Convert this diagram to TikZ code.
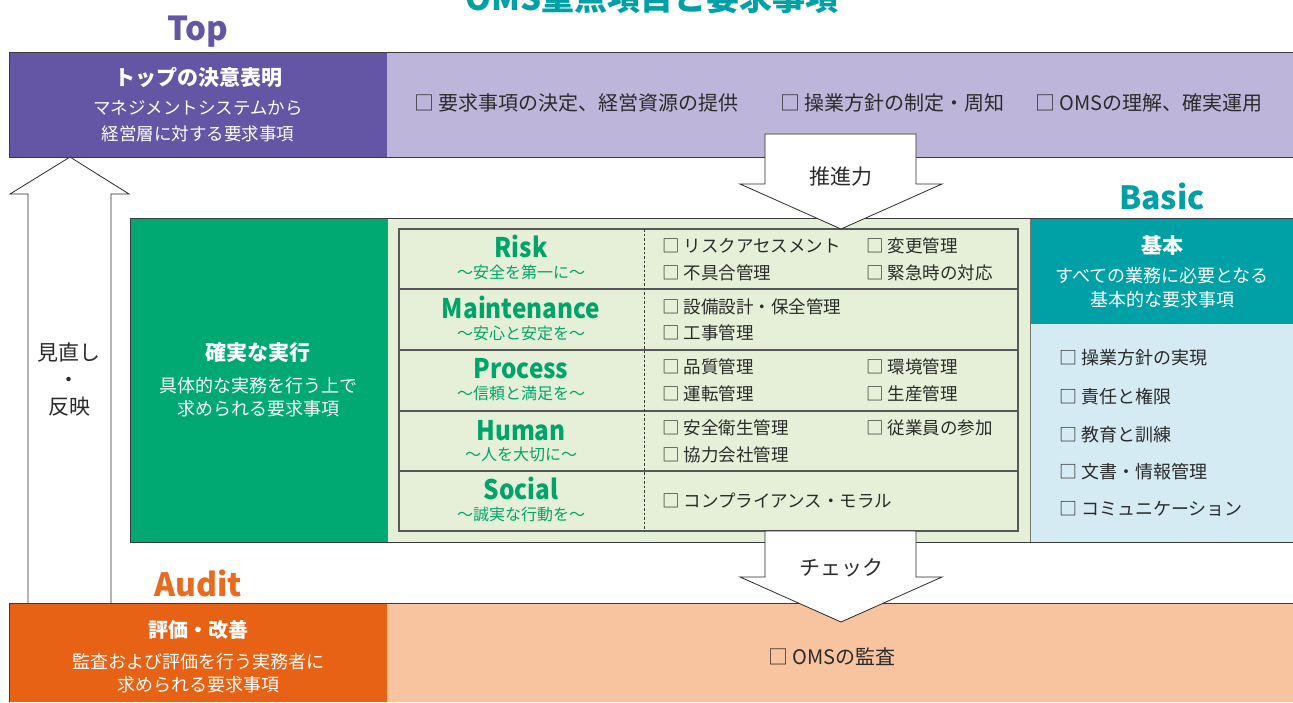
\documentclass[tikz,border=0pt]{standalone}
\usepackage{fontspec}
\setmainfont{Noto Sans CJK JP}
\definecolor{ttl}{HTML}{00A0A6}
\definecolor{purpD}{HTML}{6456A5}
\definecolor{purpL}{HTML}{BEB6DA}
\definecolor{greenD}{HTML}{00A971}
\definecolor{greenL}{HTML}{E6F0D8}
\definecolor{greenT}{HTML}{00A46B}
\definecolor{tealC}{HTML}{00A0A7}
\definecolor{blueL}{HTML}{D4EBF4}
\definecolor{orangeD}{HTML}{E86215}
\definecolor{orangeL}{HTML}{F7C49F}
\definecolor{orangeT}{HTML}{EA6A20}
\definecolor{dk}{HTML}{2B2B2B}
\definecolor{edge}{HTML}{3A3A3A}
\newcommand\cond[1]{\scalebox{0.9}[1]{#1}}
\begin{document}
\begin{tikzpicture}[x=1pt,y=-1pt,
  tx/.style={inner sep=0pt,text height={#1*0.8pt},text depth={#1*0.08pt},font=\fontsize{#1}{#1}\selectfont},
  tbx/.style={inner sep=0pt,text height={#1*0.8pt},text depth={#1*0.08pt},font=\fontsize{#1}{#1}\selectfont\bfseries},
  bandline/.style={draw=edge,line width=1pt},
  tline/.style={draw=edge!85,line width=1.2pt},
  blockarrow/.style={draw=dk,line width=0.8pt,fill=white,line join=miter},
  item/.style={tx=#1,anchor=west,text=dk},
  lbl/.style={tbx=27,text=greenT},
  sub/.style={tx=16,text=greenT}
]
\useasboundingbox (0,0) rectangle (1293,702);

% headings
\node[tbx=33,text=ttl,anchor=base] (title) at (652,10) {OMS重点項目と要求事項};
\node[tbx=33,text=purpD] (toplbl) at (198,29) {Top};
\node[tbx=32,text=ttl] (basiclbl) at (1162,198) {Basic};
\node[tbx=32,text=orangeT] (auditlbl) at (198,585) {Audit};

% top band
\fill[purpD] (9,52) rectangle (387,157);
\fill[purpL] (387,52) rectangle (1293,157);
\draw[bandline] (1293,52) -- (9,52) -- (9,157) -- (1293,157);
\node[tbx=21,text=white] (topT) at (198,78) {トップの決意表明};
\node[tx=17.5,text=white] (topS1) at (198,108) {マネジメントシステムから};
\node[tx=17.5,text=white] (topS2) at (198,134) {経営層に対する要求事項};
\node[item=20] (topI1) at (414,103) {□ 要求事項の決定、経営資源の提供};
\node[item=20] (topI2) at (780,103) {□ 操業方針の制定・周知};
\node[item=20] (topI3) at (1035,103) {□ OMSの理解、確実運用};

% review arrow
\draw[blockarrow] (28,603) -- (28,194) -- (10,194) -- (70,157) -- (129,194) -- (111,194) -- (111,603);
\node[tx=21,text=dk] (rv1) at (69,353) {見直し};
\node[tx=21,text=dk] (rv2) at (69,380) {・};
\node[tx=21,text=dk] (rv3) at (69,407) {反映};

% execution block
\fill[greenD] (130,218) rectangle (387,542);
\fill[greenL] (387,218) rectangle (1030,542);
\fill[tealC] (1030,218) rectangle (1293,324);
\fill[blueL] (1030,324) rectangle (1293,542);
\draw[draw=edge!70,line width=0.6pt] (387,218) -- (387,542) (1030,218) -- (1030,542);
\draw[bandline] (1293,218) -- (130,218) -- (130,542) -- (1293,542);
\node[tbx=21,text=white] (exT) at (258,353) {確実な実行};
\node[tx=18,text=white] (exS1) at (258,386) {具体的な実務を行う上で};
\node[tx=18,text=white] (exS2) at (258,409) {求められる要求事項};

% table
\draw[tline] (399,229) rectangle (1018,531);
\draw[tline] (399,289) -- (1018,289) (399,350) -- (1018,350) (399,411) -- (1018,411) (399,471) -- (1018,471);
\draw[draw=edge,line width=0.8pt,dash pattern=on 2.5pt off 2pt] (644,229) -- (644,531);

\node[lbl] (riskL) at (521,248) {\cond{Risk}};
\node[sub] (riskS) at (521,273) {～安全を第一に～};
\node[lbl] (mainL) at (521,309) {\cond{Maintenance}};
\node[sub] (mainS) at (521,334) {～安心と安定を～};
\node[lbl] (procL) at (521,369) {\cond{Process}};
\node[sub] (procS) at (521,394) {～信頼と満足を～};
\node[lbl] (humL) at (521,431) {\cond{Human}};
\node[sub] (humS) at (521,455) {～人を大切に～};
\node[lbl] (socL) at (521,490) {\cond{Social}};
\node[sub] (socS) at (521,515) {～誠実な行動を～};

\node[item=17.5] (r1) at (662,246) {□ リスクアセスメント};
\node[item=17.5] (r2) at (866,246) {□ 変更管理};
\node[item=17.5] (r3) at (662,273) {□ 不具合管理};
\node[item=17.5] (r4) at (866,273) {□ 緊急時の対応};
\node[item=17.5] (m1) at (662,307) {□ 設備設計・保全管理};
\node[item=17.5] (m2) at (662,333) {□ 工事管理};
\node[item=17.5] (p1) at (662,367) {□ 品質管理};
\node[item=17.5] (p2) at (866,367) {□ 環境管理};
\node[item=17.5] (p3) at (662,394) {□ 運転管理};
\node[item=17.5] (p4) at (866,394) {□ 生産管理};
\node[item=17.5] (h1) at (662,428) {□ 安全衛生管理};
\node[item=17.5] (h2) at (866,428) {□ 従業員の参加};
\node[item=17.5] (h3) at (662,455) {□ 協力会社管理};
\node[item=17.5] (s1) at (662,501) {□ コンプライアンス・モラル};

% basic
\node[tbx=21,text=white] (bT) at (1162,246) {基本};
\node[tx=18,text=white] (bS1) at (1162,276) {すべての業務に必要となる};
\node[tx=18,text=white] (bS2) at (1162,300) {基本的な要求事項};
\node[item=18] (b1) at (1059,358) {□ 操業方針の実現};
\node[item=18] (b2) at (1059,397) {□ 責任と権限};
\node[item=18] (b3) at (1059,435) {□ 教育と訓練};
\node[item=18] (b4) at (1059,472) {□ 文書・情報管理};
\node[item=18] (b5) at (1059,509) {□ コミュニケーション};

% audit band
\fill[orangeD] (9,603) rectangle (387,702);
\fill[orangeL] (387,603) rectangle (1293,702);
\draw[bandline] (1293,603) -- (9,603) -- (9,702);
\node[tbx=20,text=white] (auT) at (198,630) {評価・改善};
\node[tx=18,text=white] (auS1) at (198,662) {監査および評価を行う実務者に};
\node[tx=18,text=white] (auS2) at (198,685) {求められる要求事項};
\node[item=20] (auI) at (768,657) {□ OMSの監査};

% drive arrow
\draw[blockarrow] (765,134) -- (916,134) -- (916,184) -- (942,184) -- (841,229) -- (740,184) -- (765,184) -- cycle;
\node[tx=21,text=dk] (drive) at (841,177) {推進力};
% check arrow
\draw[blockarrow] (765,531) -- (916,531) -- (916,577) -- (942,577) -- (841,622) -- (740,577) -- (765,577) -- cycle;
\node[tx=21,text=dk] (check) at (841,568) {チェック};
\end{tikzpicture}
\end{document}
